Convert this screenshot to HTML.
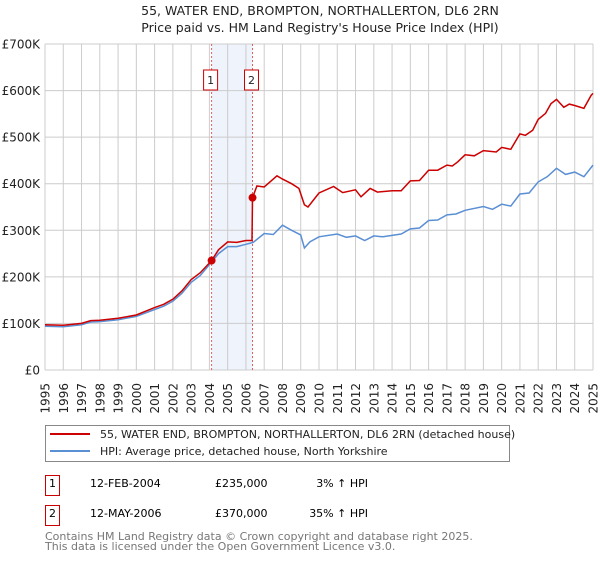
<!DOCTYPE html>
<html><head><meta charset="utf-8"><style>
body{margin:0;background:#fff;font-family:"DejaVu Sans","Liberation Sans",sans-serif;}
svg text{font-family:"DejaVu Sans","Liberation Sans",sans-serif;}
</style></head><body>
<svg id="chart" width="600" height="560" xmlns="http://www.w3.org/2000/svg">
<text x="320" y="15" text-anchor="middle" font-size="12.5" fill="#222">55, WATER END, BROMPTON, NORTHALLERTON, DL6 2RN</text>
<text x="320" y="32" text-anchor="middle" font-size="12.5" fill="#222">Price paid vs. HM Land Registry's House Price Index (HPI)</text>
<g id="grid"></g>
<g id="series"></g>
<g id="axes"></g>
<rect x="45.5" y="425.5" width="464" height="36" fill="#fff" stroke="#888"/>
<line x1="50" y1="434" x2="90" y2="434" stroke="#cc0000" stroke-width="2"/>
<text x="100" y="438" font-size="11" fill="#222">55, WATER END, BROMPTON, NORTHALLERTON, DL6 2RN (detached house)</text>
<line x1="50" y1="451" x2="90" y2="451" stroke="#5b8fd4" stroke-width="2"/>
<text x="100" y="455" font-size="11" fill="#222">HPI: Average price, detached house, North Yorkshire</text>
<g>
<rect x="45.5" y="475.5" width="14" height="20" fill="#fff" stroke="#cc0000"/>
<text x="52.5" y="487" text-anchor="middle" font-size="11">1</text>
<text x="90" y="487" font-size="11">12-FEB-2004</text>
<text x="215" y="487" font-size="11">£235,000</text>
<text x="368" y="487" font-size="11" text-anchor="end">3% ↑ HPI</text>
</g>
<g>
<rect x="45.5" y="505.5" width="14" height="20" fill="#fff" stroke="#cc0000"/>
<text x="52.5" y="517" text-anchor="middle" font-size="11">2</text>
<text x="90" y="517" font-size="11">12-MAY-2006</text>
<text x="215" y="517" font-size="11">£370,000</text>
<text x="368" y="517" font-size="11" text-anchor="end">35% ↑ HPI</text>
</g>
<text x="45" y="540" font-size="11" fill="#777">Contains HM Land Registry data © Crown copyright and database right 2025.</text>
<text x="45" y="550" font-size="11" fill="#777">This data is licensed under the Open Government Licence v3.0.</text>
</svg>
<script>
const yTicks=[0,100000,200000,300000,400000,500000,600000,700000];
const yTickLabels=["£0","£100K","£200K","£300K","£400K","£500K","£600K","£700K"];
const xYears=[1995,1996,1997,1998,1999,2000,2001,2002,2003,2004,2005,2006,2007,2008,2009,2010,2011,2012,2013,2014,2015,2016,2017,2018,2019,2020,2021,2022,2023,2024,2025];
const hpiT=[1995,1996,1997,1997.5,1998,1999,2000,2001,2001.5,2002,2002.5,2003,2003.5,2004,2004.5,2005,2005.5,2006,2006.4,2007,2007.5,2008,2008.5,2009,2009.2,2009.5,2010,2011,2011.5,2012,2012.5,2013,2013.5,2014,2014.5,2015,2015.5,2016,2016.5,2017,2017.5,2018,2019,2019.5,2020,2020.5,2021,2021.5,2022,2022.5,2023,2023.5,2024,2024.5,2025];
const hpiV=[94000,93000,97000,103000,104000,108000,115000,130000,137000,148000,165000,188000,203000,226000,250000,265000,265000,270000,274000,293000,291000,311000,300000,290000,262000,275000,286000,292000,285000,288000,278000,288000,286000,289000,292000,303000,305000,321000,322000,333000,335000,343000,351000,345000,356000,352000,378000,380000,404000,415000,433000,420000,425000,415000,440000];
const priceT=[1995,1996,1997,1997.5,1998,1999,2000,2001,2001.5,2002,2002.5,2003,2003.5,2004.12,2004.5,2005,2005.5,2006,2006.33,2006.36,2006.6,2007,2007.7,2008,2008.5,2008.9,2009.2,2009.4,2010,2010.8,2011.3,2012,2012.3,2012.8,2013.2,2014,2014.5,2015,2015.5,2016,2016.5,2017,2017.3,2017.6,2018,2018.5,2019,2019.7,2020,2020.5,2021,2021.3,2021.7,2022,2022.4,2022.7,2023,2023.4,2023.7,2024,2024.5,2024.9,2025];
const priceV=[97000,96000,100000,106000,107000,111000,118000,134000,141000,152000,170000,194000,209000,235000,258000,275000,274000,278000,278000,370000,395000,393000,417000,410000,400000,390000,355000,350000,380000,394000,381000,387000,372000,390000,382000,385000,385000,406000,407000,429000,429000,440000,438000,447000,462000,460000,471000,468000,478000,474000,507000,504000,515000,538000,551000,572000,581000,564000,571000,568000,562000,590000,594000];
const sales=[{n:"1",t:2004.12,v:235000},{n:"2",t:2006.36,v:370000}];
const X0=45,X1=593,Y0=370,Y1=44;
const xs=t=>X0+(t-1995)/30*(X1-X0);
const ys=v=>Y0-v/700000*(Y0-Y1);
const NS="http://www.w3.org/2000/svg";
function mk(tag,attrs,parent,text){const e=document.createElementNS(NS,tag);for(const k in attrs)e.setAttribute(k,attrs[k]);if(text!==undefined)e.textContent=text;parent.appendChild(e);return e;}
const grid=document.getElementById('grid'),series=document.getElementById('series'),axes=document.getElementById('axes');
const band=mk('rect',{x:xs(sales[0].t),y:Y1,width:xs(sales[1].t)-xs(sales[0].t),height:Y0-Y1,fill:'#eef3fc'},grid);


xYears.forEach(yr=>{
 const l=mk('line',{x1:xs(yr),x2:xs(yr),y1:Y1,y2:Y0,stroke:'#cccccc','stroke-width':1},grid);
 
 
 const t=mk('text',{x:0,y:0,'font-size':12,fill:'#222','text-anchor':'end',transform:`translate(${xs(yr)+4.5},383) rotate(-90)`},axes,String(yr));
 
 
});
yTicks.forEach((v,i)=>{
 const l=mk('line',{x1:X0,x2:X1,y1:ys(v),y2:ys(v),stroke:'#cccccc','stroke-width':1},grid);
 
 
 const t=mk('text',{x:40,y:ys(v)+4.5,'font-size':12,fill:'#222','text-anchor':'end'},axes,yTickLabels[i]);
 
 
});
sales.forEach(s=>{
 const l=mk('line',{x1:xs(s.t),x2:xs(s.t),y1:Y1,y2:Y0,stroke:'#e06060','stroke-width':1,'stroke-dasharray':'2,2'},grid);
 
 
 const g=mk('g',{},series);
 
 
 mk('rect',{x:xs(s.t)-8,y:70,width:14,height:20,fill:'#fff',stroke:'#cc0000'},g);
 mk('text',{x:xs(s.t)-1,y:84,'font-size':11,'text-anchor':'middle',fill:'#222'},g,s.n);
});
function pathFrom(T,V){return T.map((t,i)=>(i?'L':'M')+xs(t).toFixed(1)+','+ys(V[i]).toFixed(1)).join('');}
const hp=mk('path',{d:pathFrom(hpiT,hpiV),fill:'none',stroke:'#5b8fd4','stroke-width':1.5},series);


const pp=mk('path',{d:pathFrom(priceT,priceV),fill:'none',stroke:'#cc0000','stroke-width':1.5},series);


sales.forEach(s=>{
 const c=mk('circle',{cx:xs(s.t),cy:ys(s.v),r:4,fill:'#cc0000'},series);
 
 
});
</script>
</body></html>
